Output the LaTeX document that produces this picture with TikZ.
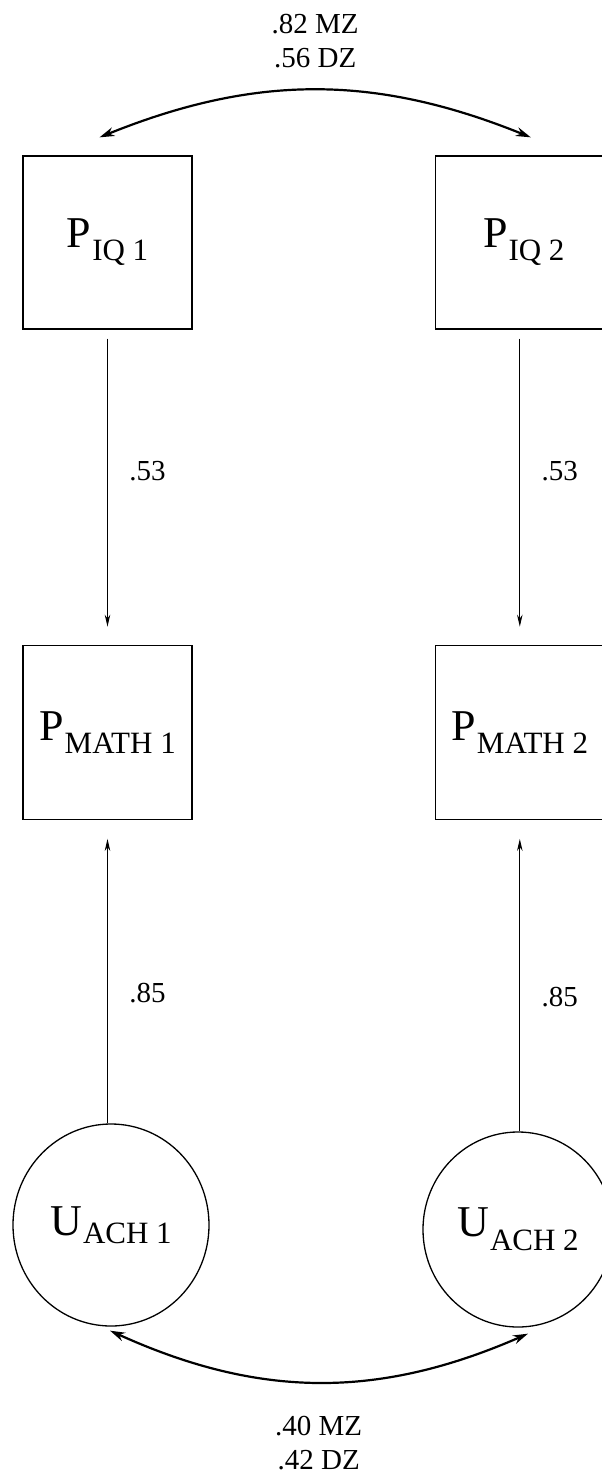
\documentclass[tikz,border=0pt]{standalone}
\usepackage{fontspec}
\setmainfont{Liberation Serif}
\usetikzlibrary{positioning,arrows.meta,calc,shapes.geometric}
\tikzset{
  obs/.style    ={draw, line width=1.3pt, minimum width=169pt, minimum height=173pt,
                  inner sep=0pt, font=\fontsize{44}{48}\selectfont},
  latent/.style ={ellipse, draw, line width=1.3pt, inner sep=0pt,
                  font=\fontsize{44}{48}\selectfont},
  causal/.style ={-{Stealth[length=12pt,width=5.5pt]}, line width=0.9pt},
  covar/.style  ={{Stealth[length=15pt,width=9pt]}-{Stealth[length=15pt,width=9pt]},
                  line width=2.2pt},
  coef/.style   ={font=\fontsize{29}{34}\selectfont, align=center},
}
\newcommand{\vname}[3]{#1\kern1pt\raisebox{-#3}{\fontsize{31}{33}\selectfont #2}}

\begin{document}
\begin{tikzpicture}[x=1pt,y=1pt]
  \useasboundingbox (0,0) rectangle (602,-1483);

  % ---- phenotypes: IQ ----
  \node[obs] (iq1) at (107.5,-242.5) {\vname{P}{IQ 1}{13pt}};
  \node[obs, right=242pt of iq1] (iq2) {\kern8pt\vname{P}{IQ 2}{13pt}};

  % ---- phenotypes: math ----
  \node[obs, below=315pt of iq1, minimum height=174pt] (math1) {\vname{P}{MATH 1}{13pt}};
  \node[obs, below=315pt of iq2, minimum height=174pt] (math2) {\vname{P}{MATH 2}{13pt}};

  % ---- unique achievement factors ----
  \node[latent, minimum width=196pt, minimum height=202pt] (ach1) at (111,-1225)
    {\vname{U}{ACH 1}{8pt}};
  \node[latent, minimum width=190pt, minimum height=195pt] (ach2) at (518,-1229.5)
    {\vname{U}{ACH 2}{14pt}};

  % ---- paths ----
  \draw[causal, shorten <=9pt, shorten >=18pt] (iq1) -- node[coef, pos=0.45, right=18pt]{.53} (math1);
  \draw[causal, shorten <=9pt, shorten >=18pt] (iq2) -- node[coef, pos=0.45, right=18pt]{.53} (math2);
  \draw[causal, shorten >=19pt] (ach1.north -| math1.south) -- node[coef, pos=0.43, right=18pt]{.85} (math1);
  \draw[causal, shorten >=19pt] (ach2.north -| math2.south) -- node[coef, pos=0.43, right=18pt]{.85} (math2);

  % ---- twin covariances ----
  \coordinate (iqL) at ($(iq1.north)+(-8,18)$);
  \coordinate (iqR) at ($(iq2.north)+(11,18)$);
  \draw[covar] (iqL) to[bend left=22] node[coef, above=18pt]{.82 MZ\\.56 DZ} (iqR);

  \coordinate (achL) at ($(ach1.south)+(-1,-4)$);
  \coordinate (achR) at ($(ach2.south)+(10,-6)$);
  \draw[covar] (achL) to[bend right=24] node[coef, below=30pt]{.40 MZ\\.42 DZ} (achR);

\end{tikzpicture}
\end{document}
